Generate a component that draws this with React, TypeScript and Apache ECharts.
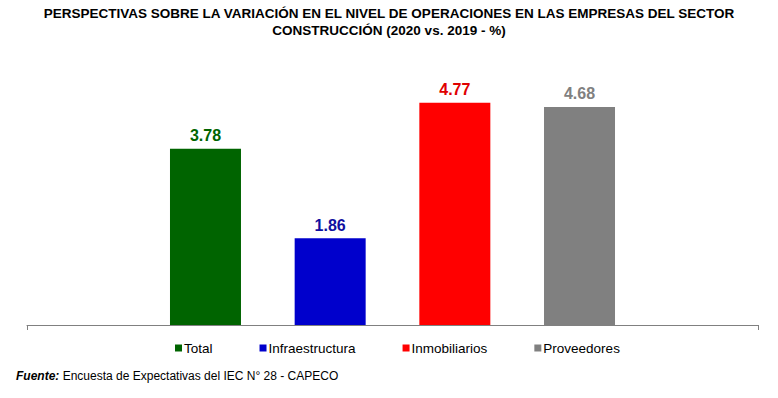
import React, { useEffect, useRef } from "react";
import * as echarts from "echarts";

const categories = ["2020 vs. 2019"];
const seriesNames = ["Total", "Infraestructura", "Inmobiliarios", "Proveedores"];
const seriesValues = [3.78, 1.86, 4.77, 4.68];
const seriesColors = ["#006400", "#0000CC", "#FF0000", "#808080"];
const labelColors = ["#006400", "#1010A0", "#E00000", "#808080"];

const FONT = "Arial, 'Liberation Sans', sans-serif";

export default function App() {
  const ref = useRef<HTMLDivElement>(null);
  useEffect(() => {
    if (!ref.current) return;
    const chart = echarts.init(ref.current, undefined, { renderer: "svg" });
    chart.setOption({
      animation: false,
      backgroundColor: "#ffffff",
      title: {
        text: "PERSPECTIVAS SOBRE LA VARIACIÓN EN EL NIVEL DE OPERACIONES EN LAS EMPRESAS DEL SECTOR\nCONSTRUCCIÓN (2020 vs. 2019 - %)",
        left: "center",
        top: 0,
        textStyle: {
          fontFamily: FONT,
          fontSize: 13.5,
          fontWeight: "bold",
          color: "#000",
          lineHeight: 17,
        },
      },
      legend: {
        left: 170,
        top: 336,
        itemWidth: 7,
        itemHeight: 7,
        itemGap: 47,
        icon: "rect",
        textStyle: { fontFamily: FONT, fontSize: 13.5, color: "#000", padding: [0, 0, 0, -3] },
        data: seriesNames,
      },
      grid: { left: 27, right: 20, top: 45.4, bottom: 73, containLabel: false },
      xAxis: {
        type: "category",
        data: categories,
        axisLine: { lineStyle: { color: "#808080", width: 1 } },
        axisTick: { show: true, length: 5, lineStyle: { color: "#808080" } },
        axisLabel: { show: false },
      },
      yAxis: {
        type: "value",
        min: 0,
        max: 6,
        show: false,
        splitLine: { show: false },
      },
      series: seriesNames.map((name, i) => ({
        name,
        type: "bar",
        data: [seriesValues[i]],
        barWidth: 71,
        barGap: "75.6%",
        itemStyle: { color: seriesColors[i] },
        label: {
          show: true,
          position: "top",
          distance: 5,
          formatter: (p: any) => p.value.toFixed(2),
          fontFamily: FONT,
          fontSize: 16,
          fontWeight: "bold",
          color: labelColors[i],
        },
      })),
      graphic: [
        {
          type: "text",
          left: 16,
          top: 370,
          style: {
            text: "{b|Fuente:} Encuesta de Expectativas del IEC N° 28 - CAPECO",
            fontFamily: FONT,
            fontSize: 12,
            fill: "#000",
            rich: {
              b: { fontFamily: FONT, fontSize: 12, fontWeight: "bold", fontStyle: "italic", fill: "#000" },
            },
          },
        },
      ],
    });
    return () => chart.dispose();
  }, []);
  return <div ref={ref} style={{ width: 778, height: 398, position: "absolute", left: 0, top: 0 }} />;
}
